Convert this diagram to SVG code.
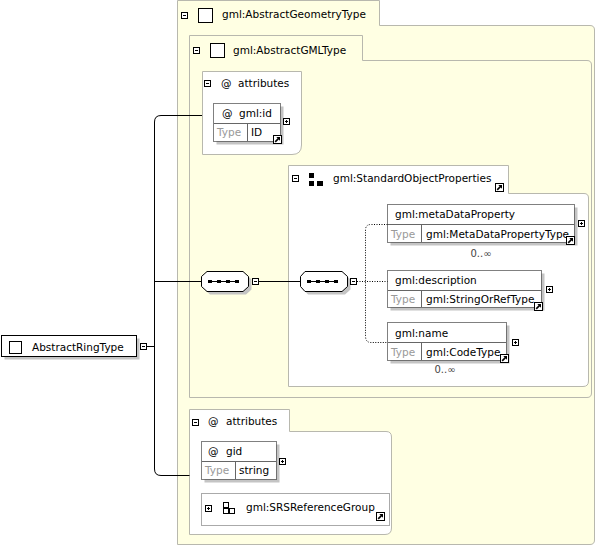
<svg xmlns="http://www.w3.org/2000/svg" xmlns:xlink="http://www.w3.org/1999/xlink" width="597" height="547" viewBox="0 0 597 547">
<style>
text{font-family:"DejaVu Sans","Liberation Sans",sans-serif;font-size:10.5px;fill:#000}
.ty{fill:#999}
.occ{font-size:10px;fill:#444}
.cont{fill:#FFFFE3;stroke:#B8B8AE;stroke-width:1}
.wcont{fill:#fff;stroke:#B8B8AE;stroke-width:1}
.shadow{fill:#C4C4C4}
.el{fill:#fff;stroke:#000;stroke-width:1;stroke-dasharray:1 1}
.div{stroke:#666;stroke-width:1;fill:none}
.conn{fill:none;stroke:#000;stroke-width:1}
.dot{fill:none;stroke:#000;stroke-width:1;stroke-dasharray:1 1.5}
.sq{fill:#fff;stroke:#000;stroke-width:1}
</style>
<defs>
<g id="minus"><rect x="0.5" y="0.5" width="6" height="6" fill="#fff" stroke="#000"/><path d="M2 3.5H5" stroke="#000"/></g>
<g id="plus"><rect x="0.5" y="0.5" width="6" height="6" fill="#fff" stroke="#000"/><path d="M2 3.5H5M3.5 2V5" stroke="#000"/></g>
<g id="link"><rect x="0.5" y="0.5" width="8" height="8" fill="#fff" stroke="#000"/><path d="M2.2 6.8L6 3" stroke="#000" stroke-width="1.7"/><path d="M3.3 2H7V5.7Z" fill="#000"/></g>
<g id="seqdots"><path d="M1 1.5H31" stroke="#000"/><rect x="0" y="0" width="4" height="3" fill="#000"/><rect x="9" y="0" width="4" height="3" fill="#000"/><rect x="18" y="0" width="4" height="3" fill="#000"/><rect x="27" y="0" width="4" height="3" fill="#000"/></g>
</defs>

<g id="AbstractGeometryType">
<path class="cont" d="M177.5,0.5 H379.5 V25.5 H590 Q594.5,25.5 594.5,30 V540 Q594.5,544.5 590,544.5 H177.5 Z"/>
<use xlink:href="#minus" x="181" y="12"/>
<rect class="sq" x="198.5" y="8.5" width="14" height="14"/>
<text x="222" y="18">gml:AbstractGeometryType</text>
</g>

<g id="AbstractGMLType">
<path class="cont" d="M189.5,35.5 H362.5 V60.5 H587 Q591.5,60.5 591.5,65 V393 Q591.5,397.5 587,397.5 H189.5 Z"/>
<use xlink:href="#minus" x="193" y="47"/>
<rect class="sq" x="210.5" y="43.5" width="14" height="14"/>
<text x="233" y="54">gml:AbstractGMLType</text>
</g>

<g id="attributes1">
<path class="wcont" d="M202.5,71.5 H301.5 V145 Q301.5,154.5 292,154.5 H202.5 Z"/>
<use xlink:href="#minus" x="204" y="80"/>
<text x="221" y="87">@</text>
<text x="238" y="87">attributes</text>
</g>

<g id="gml_id">
<rect class="shadow" x="216.5" y="106.5" width="67" height="38"/>
<rect class="el" x="213.5" y="103.5" width="67" height="38"/>
<path class="div" d="M214,123.5H280M247.5,124V141"/>
<text x="222" y="117">@</text>
<text x="239" y="117">gml:id</text>
<text class="ty" x="217" y="136">Type</text>
<text x="251" y="136">ID</text>
<use xlink:href="#plus" x="283" y="118"/>
<use xlink:href="#link" x="273" y="135"/>
</g>

<g id="StandardObjectProperties">
<path class="wcont" d="M288.5,165.5 H508.5 V193.5 H584 Q588.5,193.5 588.5,198 V381 Q588.5,386.5 583,386.5 H288.5 Z"/>
<use xlink:href="#minus" x="292" y="175"/>
<rect x="309" y="173" width="5" height="5" fill="#000"/>
<rect x="309" y="181" width="5" height="5" fill="#000"/>
<rect x="317" y="181" width="6" height="5" fill="#000"/>
<text x="333" y="182">gml:StandardObjectProperties</text>
<use xlink:href="#link" x="495" y="183"/>
</g>

<g id="sequence1">
<polygon class="shadow" points="210,274.5 246,274.5 251.5,279.5 251.5,289.5 246,294.5 210,294.5 204.5,289.5 204.5,279.5"/>
<polygon class="sq" points="207,271.5 243,271.5 248.5,276.5 248.5,286.5 243,291.5 207,291.5 201.5,286.5 201.5,276.5"/>
<use xlink:href="#seqdots" x="208" y="280"/>
<use xlink:href="#minus" x="252" y="278"/>
</g>

<g id="sequence2">
<polygon class="shadow" points="308,274.5 345,274.5 350.5,279.5 350.5,289.5 345,294.5 308,294.5 303.5,289.5 303.5,279.5"/>
<polygon class="sq" points="305,271.5 342,271.5 347.5,276.5 347.5,286.5 342,291.5 305,291.5 300.5,286.5 300.5,276.5"/>
<use xlink:href="#seqdots" x="307" y="280"/>
<use xlink:href="#minus" x="350" y="278"/>
</g>

<g id="metaDataProperty">
<rect class="shadow" x="390.5" y="207.5" width="187" height="38"/>
<rect class="el" x="387.5" y="204.5" width="187" height="38"/>
<path class="div" d="M388,224.5H574M421.5,225V242"/>
<text x="395" y="218">gml:metaDataProperty</text>
<text class="ty" x="391" y="237.5">Type</text>
<text x="426" y="237.5">gml:MetaDataPropertyType</text>
<use xlink:href="#plus" x="578" y="220"/>
<use xlink:href="#link" x="566" y="236"/>
<text class="occ" x="481" y="257" text-anchor="middle">0..∞</text>
</g>

<g id="description">
<rect class="shadow" x="390.5" y="273.5" width="154" height="37"/>
<rect class="el" x="387.5" y="270.5" width="154" height="37"/>
<path class="div" d="M388,290.5H541M421.5,291V307"/>
<text x="395" y="284">gml:description</text>
<text class="ty" x="391" y="303">Type</text>
<text x="426" y="303">gml:StringOrRefType</text>
<use xlink:href="#plus" x="546" y="286"/>
<use xlink:href="#link" x="534" y="302"/>
</g>

<g id="name">
<rect class="shadow" x="390.5" y="325.5" width="119" height="38"/>
<rect class="el" x="387.5" y="322.5" width="119" height="38"/>
<path class="div" d="M388,342.5H506M421.5,343V360"/>
<text x="395" y="336.5">gml:name</text>
<text class="ty" x="391" y="355.5">Type</text>
<text x="426" y="355.5">gml:CodeType</text>
<use xlink:href="#plus" x="512" y="339"/>
<use xlink:href="#link" x="500" y="354"/>
<text class="occ" x="445" y="373" text-anchor="middle">0..∞</text>
</g>

<g id="attributes2">
<path class="wcont" d="M189.5,409.5 H289.5 V431.5 H386 Q391.5,431.5 391.5,437 V528 Q391.5,534.5 385,534.5 H189.5 Z"/>
<use xlink:href="#minus" x="192" y="419"/>
<text x="208" y="425">@</text>
<text x="226" y="425">attributes</text>
</g>

<g id="gid">
<rect class="shadow" x="204.5" y="444.5" width="75" height="38"/>
<rect class="el" x="201.5" y="441.5" width="75" height="38"/>
<path class="div" d="M202,461.5H276M235.5,462V479"/>
<text x="208" y="455">@</text>
<text x="226" y="455">gid</text>
<text class="ty" x="205" y="474">Type</text>
<text x="239" y="474">string</text>
<use xlink:href="#plus" x="279" y="458"/>
</g>

<g id="SRSReferenceGroup">
<rect x="201.5" y="493.5" width="188" height="32" fill="#fff" stroke="#AAAAAA"/>
<use xlink:href="#plus" x="205" y="505"/>
<rect x="223.5" y="502.5" width="5" height="5" fill="none" stroke="#000"/>
<rect x="223.5" y="508.5" width="5" height="5" fill="none" stroke="#000"/>
<rect x="229.5" y="508.5" width="5" height="5" fill="none" stroke="#000"/>
<text x="246" y="511">gml:SRSReferenceGroup</text>
<use xlink:href="#link" x="376" y="512"/>
</g>

<g id="AbstractRingType">
<rect class="shadow" x="4.5" y="338.5" width="135" height="21"/>
<rect x="1.5" y="335.5" width="135" height="21" fill="#fff" stroke="#000"/>
<rect class="sq" x="9.5" y="341.5" width="12" height="12"/>
<text x="32" y="351">AbstractRingType</text>
<use xlink:href="#minus" x="140" y="343"/>
</g>

<g id="connectors">
<path class="conn" d="M147,346.5H154.5"/>
<path class="conn" d="M202,115.5H161Q154.5,115.5 154.5,122V469Q154.5,475.5 161,475.5H189.5"/>
<path class="conn" d="M154.5,281.5H201.5"/>
<path class="conn" d="M259,281.5H300.5"/>
<path class="dot" d="M357,281.5H387.5"/>
<path class="dot" d="M387.5,224.5H371Q365.5,224.5 365.5,230V336Q365.5,342.5 371,342.5H387.5"/>
</g>
</svg>
